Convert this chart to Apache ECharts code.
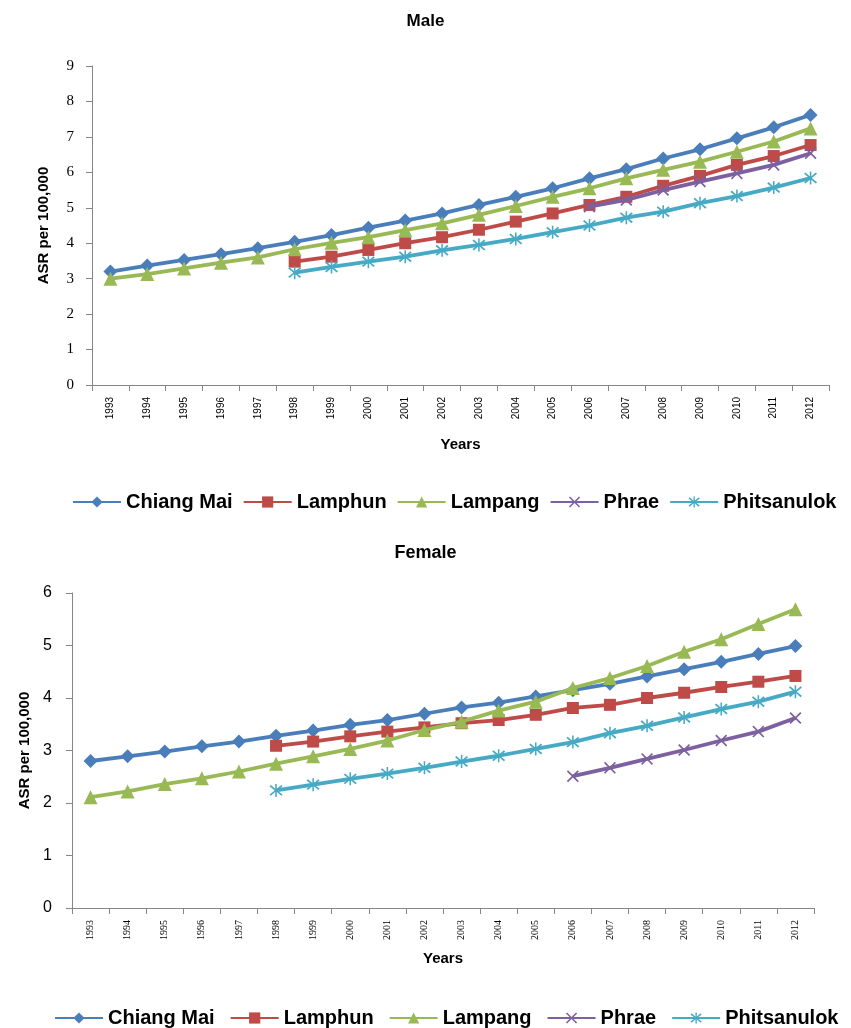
<!DOCTYPE html>
<html><head><meta charset="utf-8">
<script src="https://cdn.jsdelivr.net/npm/echarts@6/dist/echarts.min.js"></script>
<style>html,body{margin:0;padding:0;background:#fff}#c{width:851px;height:1028px}</style>
</head><body><div id="c"></div>
<script>
const years = ['1993','1994','1995','1996','1997','1998','1999','2000','2001','2002','2003','2004','2005','2006','2007','2008','2009','2010','2011','2012'];
const seriesNames = ['Chiang Mai','Lamphun','Lampang','Phrae','Phitsanulok'];
const N = null;
const maleChiangMai  = [3.20,3.37,3.53,3.69,3.86,4.04,4.23,4.44,4.64,4.84,5.08,5.31,5.55,5.83,6.09,6.39,6.65,6.96,7.27,7.62];
const maleLamphun    = [N,N,N,N,N,3.48,3.62,3.81,4.00,4.17,4.38,4.61,4.84,5.08,5.31,5.62,5.90,6.21,6.46,6.77];
const maleLampang    = [3.00,3.13,3.29,3.45,3.60,3.83,4.01,4.17,4.37,4.56,4.80,5.05,5.31,5.55,5.83,6.07,6.30,6.58,6.87,7.24];
const malePhrae      = [N,N,N,N,N,N,N,N,N,N,N,N,N,5.03,5.22,5.50,5.74,5.97,6.21,6.54];
const malePhitsanulok= [N,N,N,N,N,3.17,3.33,3.48,3.62,3.80,3.95,4.12,4.31,4.50,4.72,4.89,5.13,5.33,5.57,5.84];
const femChiangMai   = [2.80,2.89,2.98,3.08,3.17,3.28,3.38,3.49,3.58,3.70,3.82,3.91,4.03,4.15,4.27,4.41,4.55,4.69,4.84,4.99];
const femLamphun     = [N,N,N,N,N,3.09,3.17,3.27,3.36,3.44,3.52,3.58,3.68,3.81,3.87,4.00,4.10,4.21,4.31,4.42];
const femLampang     = [2.11,2.22,2.36,2.47,2.60,2.75,2.89,3.03,3.19,3.39,3.55,3.76,3.93,4.19,4.38,4.61,4.88,5.12,5.41,5.69];
const femPhrae       = [N,N,N,N,N,N,N,N,N,N,N,N,N,2.51,2.67,2.84,3.01,3.19,3.36,3.62];
const femPhitsanulok = [N,N,N,N,N,2.24,2.35,2.46,2.56,2.67,2.79,2.90,3.03,3.16,3.33,3.47,3.63,3.79,3.93,4.12];

const colors = ['#4A7EBB','#BE4B48','#98B954','#7D60A0','#46AAC5'];
const xPath = 'path://M0,1 L1,0 L5,4 L9,0 L10,1 L6,5 L10,9 L9,10 L5,6 L1,10 L0,9 L4,5 Z';
const starPath = 'path://M4.4,0 L5.6,0 L5.6,10 L4.4,10 Z M0,1.8 L1,0.8 L5,4.3 L9,0.8 L10,1.8 L6,5 L10,8.2 L9,9.2 L5,5.7 L1,9.2 L0,8.2 L4,5 Z';
const symbols = ['diamond','rect','triangle',xPath,starPath];
const sizes = [14,12,14,12,13];

function mk(name, i, data, idx){
  return {name:name, type:'line', xAxisIndex:idx, yAxisIndex:idx, data:data,
    symbol:symbols[i], symbolSize:sizes[i], showSymbol:true, connectNulls:false,
    lineStyle:{color:colors[i], width:3.8}, itemStyle:{color:colors[i]},
    z: 2+i, animation:false};
}
const maleData = [maleChiangMai,maleLamphun,maleLampang,malePhrae,malePhitsanulok];
const femData = [femChiangMai,femLamphun,femLampang,femPhrae,femPhitsanulok];
const series = [];
seriesNames.forEach((n,i)=>series.push(mk(n,i,maleData[i],0)));
seriesNames.forEach((n,i)=>series.push(mk(n,i,femData[i],1)));

const axisLineStyle = {lineStyle:{color:'#868686', width:1}};
function xAx(gi, font, fs, margin, gap){
  return {type:'category', gridIndex:gi, data:years, boundaryGap:true,
    axisLine:axisLineStyle, axisTick:{show:true, length:6, lineStyle:{color:'#868686'}},
    axisLabel:{rotate:90, interval:0, fontSize:fs, fontFamily:font, color:'#000', margin:margin},
    name:'Years', nameLocation:'middle', nameGap:gap,
    nameTextStyle:{fontSize:15, fontWeight:'bold', fontFamily:'Liberation Sans', color:'#000'}};
}
function yAx(gi, max, font, fs, margin, gap){
  return {type:'value', gridIndex:gi, min:0, max:max, interval:1,
    axisLine:{show:true, lineStyle:{color:'#868686'}}, axisTick:{show:true, length:6, lineStyle:{color:'#868686'}},
    splitLine:{show:false},
    axisLabel:{fontSize:fs, fontFamily:font, color:'#000', margin:margin},
    name:'ASR per 100,000', nameLocation:'middle', nameRotate:90, nameGap:gap,
    nameTextStyle:{fontSize:15, fontWeight:'bold', fontFamily:'Liberation Sans', color:'#000'}};
}
const legendText = {fontSize:20, fontWeight:'bold', fontFamily:'Liberation Sans', color:'#000'};
const option = {
  animation:false,
  title:[
    {text:'Male', left:'center', top:8, textStyle:{fontSize:17, fontWeight:'bold', fontFamily:'Liberation Sans', color:'#000'}},
    {text:'Female', left:'center', top:539, textStyle:{fontSize:18, fontWeight:'bold', fontFamily:'Liberation Sans', color:'#000'}}
  ],
  grid:[
    {left:92, top:66, width:737, height:319},
    {left:72, top:593, width:742, height:315}
  ],
  xAxis:[xAx(0,'Liberation Sans',10,12,52), xAx(1,'Liberation Serif',10,12,43)],
  yAxis:[yAx(0,9,'Liberation Serif',15,18,41), yAx(1,6,'Liberation Sans',16,20,39)],
  legend:[
    {data:seriesNames.map(n=>({name:n})), left:67, top:487, itemWidth:48, itemHeight:14, itemGap:10, textStyle:legendText},
    {data:seriesNames.map(n=>({name:n})), left:49, top:1003, itemWidth:48, itemHeight:14, itemGap:15, textStyle:legendText}
  ],
  series:series
};
const chart = echarts.init(document.getElementById('c'), null, {renderer:'canvas'});
chart.setOption(option);
</script></body></html>
